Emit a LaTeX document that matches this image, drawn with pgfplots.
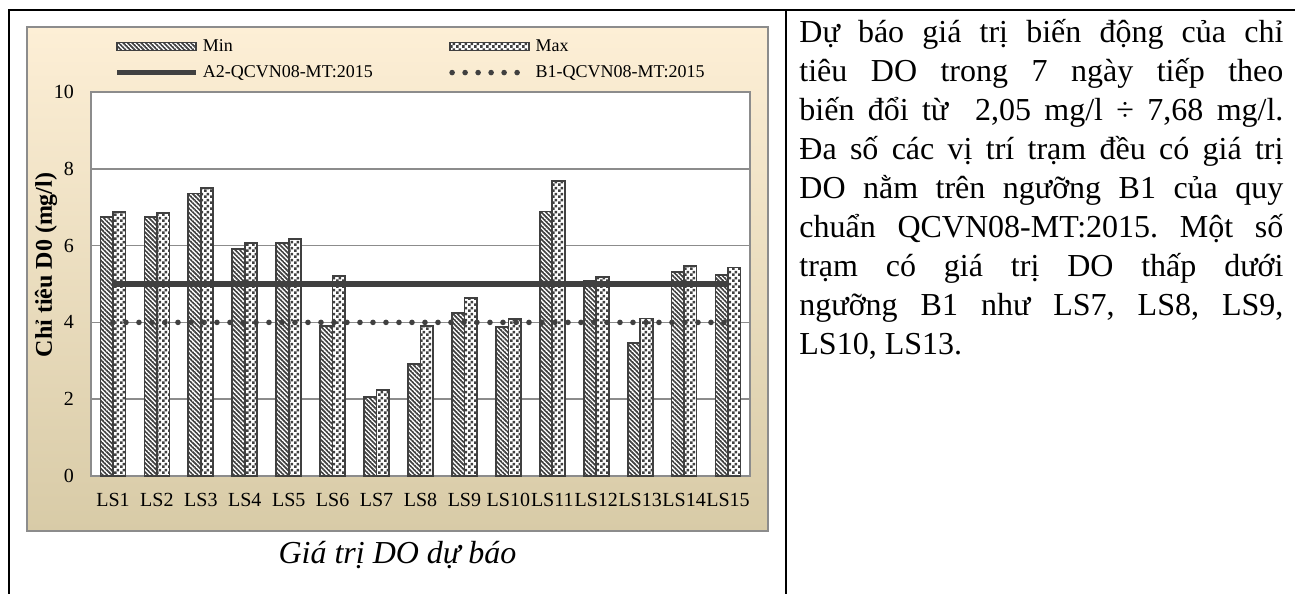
\documentclass[border=0pt]{standalone}
\usepackage{fontspec}
\setmainfont{Liberation Serif}
\usepackage{pgfplots}
\pgfplotsset{compat=1.18}
\usetikzlibrary{patterns.meta}
\frenchspacing

\definecolor{bardark}{HTML}{404040}
\definecolor{gridgray}{HTML}{8C8C8C}
\definecolor{bgtop}{HTML}{FDEFD6}
\definecolor{bgbot}{HTML}{D8CBA7}

\tikzdeclarepattern{
  name=mystripes,
  type=uncolored,
  bounding box={(0pt,-0.45pt) and (1.6pt,0.45pt)},
  tile size={(1.6pt,1.6pt)},
  tile transformation={rotate=-45},
  code={\draw[line width=0.85pt] (0pt,0pt) -- (1.6pt,0pt);}
}
\tikzdeclarepattern{
  name=mycheck,
  type=uncolored,
  bounding box={(0pt,0pt) and (3pt,3pt)},
  tile size={(3pt,3pt)},
  code={\fill (0pt,0pt) rectangle (1.5pt,1.5pt); \fill (1.5pt,1.5pt) rectangle (3pt,3pt);}
}
\pgfplotsset{
  barleg/.style={legend image code/.code={\draw[##1] (0pt,-2pt) rectangle (39.5pt,2pt);}},
  lineleg/.style={legend image code/.code={\draw[##1] (0pt,0pt) -- (39.5pt,0pt);}},
  dotleg/.style={legend image code/.code={\draw[##1] (1.2pt,0pt) -- (39.5pt,0pt);}},
}

\begin{document}
\begin{tikzpicture}
\useasboundingbox (0pt,0pt) rectangle (647.5pt,297pt);
% table rules
\draw[black, line width=1pt] (4.5pt,291.75pt) -- (647.5pt,291.75pt);
\draw[black, line width=1pt] (4.5pt,292.25pt) -- (4.5pt,0pt);
\draw[black, line width=1pt] (393pt,292.25pt) -- (393pt,0pt);
% chart frame
\shade[top color=bgtop, bottom color=bgbot] (13.5pt,31.5pt) rectangle (384pt,283.5pt);
\draw[gridgray, line width=0.75pt] (13.5pt,31.5pt) rectangle (384pt,283.5pt);

\begin{axis}[
  at={(45.5pt,59pt)}, anchor=south west,
  scale only axis, width=329.5pt, height=192pt,
  xmin=0.5, xmax=15.5, ymin=0, ymax=10,
  ytick={0,2,4,6,8,10}, xtick={1,2,...,15},
  xticklabels={LS1,LS2,LS3,LS4,LS5,LS6,LS7,LS8,LS9,LS10,LS11,LS12,LS13,LS14,LS15},
  major tick length=0pt,
  ymajorgrids, grid style={gridgray, line width=0.8pt},
  axis line style={gridgray, line width=0.8pt},
  axis background/.style={fill=white},
  tick label style={font=\fontsize{10}{11}\selectfont},
  /pgf/number format/assume math mode=true,
  yticklabel style={xshift=-5pt},
  xticklabel style={anchor=base, yshift=-15pt},
  legend columns=2,
  legend cell align=left,
  legend style={at={(0.035,1.149)}, anchor=north west, draw=none, fill=none,
    inner xsep=0pt, inner ysep=0pt, row sep=1.5pt,
    font=\fontsize{9}{10}\selectfont,
    /tikz/every even column/.append style={column sep=36pt}},
  clip=false,
]
\addplot[ybar, bar width=6.25pt, bar shift=-3.125pt, draw=bardark, line width=0.85pt, fill=white,
  postaction={pattern=mystripes, pattern color=bardark}, barleg]
  coordinates {(1,6.74) (2,6.74) (3,7.36) (4,5.92) (5,6.06) (6,3.90) (7,2.05) (8,2.91) (9,4.25) (10,3.88) (11,6.89) (12,5.09) (13,3.47) (14,5.31) (15,5.23)};
\addlegendentry{Min}
\addplot[ybar, bar width=6.25pt, bar shift=3.125pt, draw=bardark, line width=0.85pt, fill=white,
  postaction={pattern=mycheck, pattern color=bardark}, barleg]
  coordinates {(1,6.87) (2,6.85) (3,7.50) (4,6.06) (5,6.18) (6,5.20) (7,2.24) (8,3.90) (9,4.63) (10,4.08) (11,7.68) (12,5.18) (13,4.10) (14,5.46) (15,5.43)};
\addlegendentry{Max}
\addplot[sharp plot, no marks, draw=bardark, line width=2.65pt, lineleg]
  coordinates {(1,5) (15,5)};
\addlegendentry{A2-QCVN08-MT:2015}
\addplot[sharp plot, no marks, draw=bardark, line width=2.8pt, line cap=round, dash pattern=on 0pt off 6.5pt, dotleg]
  coordinates {(1,4) (15,4)};
\addlegendentry{B1-QCVN08-MT:2015}
\end{axis}

\node[rotate=90, font=\bfseries\fontsize{12}{14}\selectfont] at (23pt,164.5pt) {Chỉ tiêu D0 (mg/l)};

\node[anchor=base, font=\itshape\fontsize{16}{18}\selectfont] at (198.75pt,15.5pt) {Giá trị DO dự báo};

\node[anchor=base west, inner sep=0pt] at (399.5pt,275.5pt) {\begin{minipage}[t]{242pt}
\fontsize{16}{19.45}\selectfont\parindent=0pt\hyphenpenalty=10000\emergencystretch=2em
Dự báo giá trị biến động của chỉ\linebreak
tiêu DO trong 7 ngày tiếp theo\linebreak
biến đổi từ\ \ 2,05 mg/l ÷ 7,68 mg/l.\linebreak
Đa số các vị trí trạm đều có giá trị\linebreak
DO nằm trên ngưỡng B1 của quy\linebreak
chuẩn QCVN08-MT:2015. Một số\linebreak
trạm có giá trị DO thấp dưới\linebreak
ngưỡng B1 như LS7, LS8, LS9,\linebreak
LS10, LS13.
\end{minipage}};
\end{tikzpicture}
\end{document}
